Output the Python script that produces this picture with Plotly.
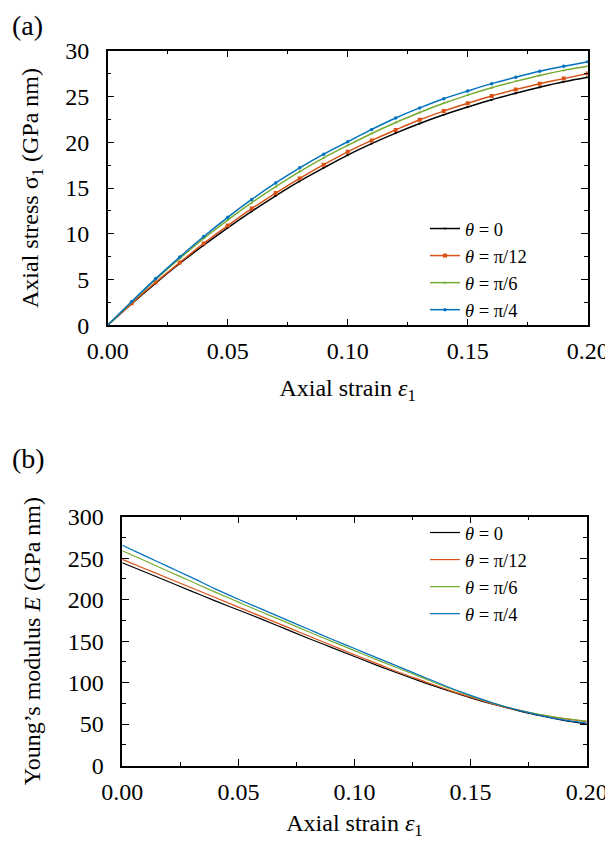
import plotly.graph_objects as go

# ---------------- data ----------------
strain = [0.00, 0.01, 0.02, 0.03, 0.04, 0.05, 0.06, 0.07, 0.08, 0.09, 0.10,
          0.11, 0.12, 0.13, 0.14, 0.15, 0.16, 0.17, 0.18, 0.19, 0.20]

labels = ["<i>θ</i> = 0", "<i>θ</i> = π/12", "<i>θ</i> = π/6", "<i>θ</i> = π/4"]

# Axial stress sigma_1 (GPa nm)
stress_t0 = [0, 2.35, 4.6, 6.75, 8.75, 10.65, 12.45, 14.15, 15.75, 17.2, 18.6,
             19.85, 21.0, 22.05, 23.0, 23.85, 24.65, 25.35, 26.0, 26.6, 27.1]
stress_t12 = [0, 2.4, 4.7, 6.85, 8.95, 10.9, 12.75, 14.45, 16.05, 17.55, 18.95,
              20.2, 21.35, 22.45, 23.4, 24.25, 25.05, 25.75, 26.4, 26.95, 27.5]
stress_t6 = [0, 2.55, 5.0, 7.3, 9.5, 11.5, 13.4, 15.15, 16.8, 18.3, 19.65,
             20.95, 22.15, 23.25, 24.25, 25.15, 25.95, 26.65, 27.3, 27.85, 28.3]
stress_t4 = [0, 2.6, 5.1, 7.45, 9.7, 11.8, 13.75, 15.55, 17.2, 18.7, 20.05,
             21.4, 22.65, 23.75, 24.75, 25.6, 26.4, 27.1, 27.75, 28.3, 28.8]

# Young's modulus E (GPa nm)
E_t0 = [244.5, 233, 221.5, 210, 198.5, 187.5, 176.5, 165, 153.5, 142.5, 131.5,
        120.5, 110, 100, 90.5, 81.5, 73.5, 66.5, 60, 54.5, 50]
E_t12 = [248.5, 237, 225.5, 214, 202.5, 191, 179.5, 168, 156.5, 145, 133.5,
         122.5, 111.5, 101.5, 91.5, 82.5, 74, 67, 61, 56.5, 53]
E_t6 = [259, 246.5, 234, 221.5, 209, 197, 185, 173.5, 161.5, 150, 138.5,
        127, 116, 105, 94, 84, 75, 67.5, 61.5, 57, 53.5]
E_t4 = [265.5, 252.5, 239.5, 226.5, 213, 200.5, 188.5, 176.5, 164.5, 152.5, 141,
        129.5, 118, 106.5, 95, 84.5, 75, 67, 60.5, 55, 51]

x_ticks = [0.00, 0.05, 0.10, 0.15, 0.20]
stress_ticks = [0, 5, 10, 15, 20, 25, 30]
E_ticks = [0, 50, 100, 150, 200, 250, 300]

colors = ["#000000", "#D95319", "#77AC30", "#0072BD"]
symbols = ["triangle-down", "square", "triangle-up", "circle"]
msizes = [3, 4, 3, 3.5]

FONT = "Liberation Serif, Times New Roman, Times, DejaVu Serif, serif"

# page is 613x848; the html body adds an 8 px margin around the figure
OFF = 8
W, H = 613 - 2 * OFF, 848 - 2 * OFF

fig = go.Figure()

stress_sets = [stress_t0, stress_t12, stress_t6, stress_t4]
E_sets = [E_t0, E_t12, E_t6, E_t4]

for i in range(4):
    fig.add_trace(go.Scatter(
        x=strain, y=stress_sets[i], mode="lines+markers", name=labels[i],
        line=dict(color=colors[i], width=1.5, shape="spline"),
        marker=dict(symbol=symbols[i], size=msizes[i], color=colors[i]),
        xaxis="x", yaxis="y", legend="legend", showlegend=True))

for i in range(4):
    fig.add_trace(go.Scatter(
        x=strain, y=E_sets[i], mode="lines", name=labels[i],
        line=dict(color=colors[i], width=1.2, shape="spline"),
        xaxis="x2", yaxis="y2", legend="legend2", showlegend=True))


def px_x(p):
    return (p - OFF) / W


def px_y(p):
    return 1 - (p - OFF) / H


axis_common = dict(
    showline=True, linecolor="black", linewidth=1.5, mirror="ticks",
    ticks="inside", ticklen=7, tickwidth=1, tickcolor="black",
    showgrid=False, zeroline=False, automargin=False,
    ticklabeloverflow="allow",
    tickfont=dict(family=FONT, size=24, color="black"),
    title_font=dict(family=FONT, size=24, color="black"),
)

fig.update_layout(
    width=W, height=H,
    margin=dict(l=0, r=0, t=0, b=0, autoexpand=False),
    paper_bgcolor="white", plot_bgcolor="white",
    font=dict(family=FONT, color="black"),
    xaxis=dict(domain=[px_x(107.7), px_x(587.7)], anchor="y", range=[0, 0.2],
               tickvals=x_ticks, tickformat=".2f",
               minor=dict(dtick=0.025, ticks="inside", ticklen=4, tickcolor="black"),
               title=dict(text="Axial strain <i>ε</i><sub>1</sub>", standoff=16),
               ticklabelstandoff=3, **axis_common),
    yaxis=dict(domain=[px_y(325.3), px_y(50.7)], anchor="x", range=[0, 30],
               tickvals=stress_ticks,
               minor=dict(dtick=2.5, ticks="inside", ticklen=4, tickcolor="black"),
               title=dict(text="Axial stress σ<sub>1</sub> (GPa nm)", standoff=20),
               ticklabelstandoff=12, **axis_common),
    xaxis2=dict(domain=[px_x(122.3), px_x(586.7)], anchor="y2", range=[0, 0.2],
                tickvals=x_ticks, tickformat=".2f",
                minor=dict(dtick=0.025, ticks="inside", ticklen=4, tickcolor="black"),
                title=dict(text="Axial strain <i>ε</i><sub>1</sub>", standoff=17),
                ticklabelstandoff=4, **axis_common),
    yaxis2=dict(domain=[px_y(765.5), px_y(516.7)], anchor="x2", range=[0, 300],
                tickvals=E_ticks,
                minor=dict(dtick=25, ticks="inside", ticklen=4, tickcolor="black"),
                title=dict(text="Young’s modulus <i>E</i> (GPa nm)", standoff=20),
                ticklabelstandoff=12, **axis_common),
    legend=dict(x=px_x(425), y=px_y(210), xanchor="left", yanchor="top",
                bgcolor="rgba(0,0,0,0)", font=dict(size=18.5, family=FONT, color="black"),
                tracegroupgap=0, itemwidth=30),
    legend2=dict(x=px_x(425), y=px_y(514), xanchor="left", yanchor="top",
                 bgcolor="rgba(0,0,0,0)", font=dict(size=18.5, family=FONT, color="black"),
                 tracegroupgap=0, itemwidth=30),
    showlegend=True,
)

annotations = [
    dict(text="(a)", x=px_x(10), y=px_y(8), xref="paper", yref="paper",
         xanchor="left", yanchor="top", showarrow=False,
         font=dict(family=FONT, size=28, color="black")),
    dict(text="(b)", x=px_x(10), y=px_y(441), xref="paper", yref="paper",
         xanchor="left", yanchor="top", showarrow=False,
         font=dict(family=FONT, size=28, color="black")),
]
fig.update_layout(annotations=annotations)

fig.write_html("out.html")
